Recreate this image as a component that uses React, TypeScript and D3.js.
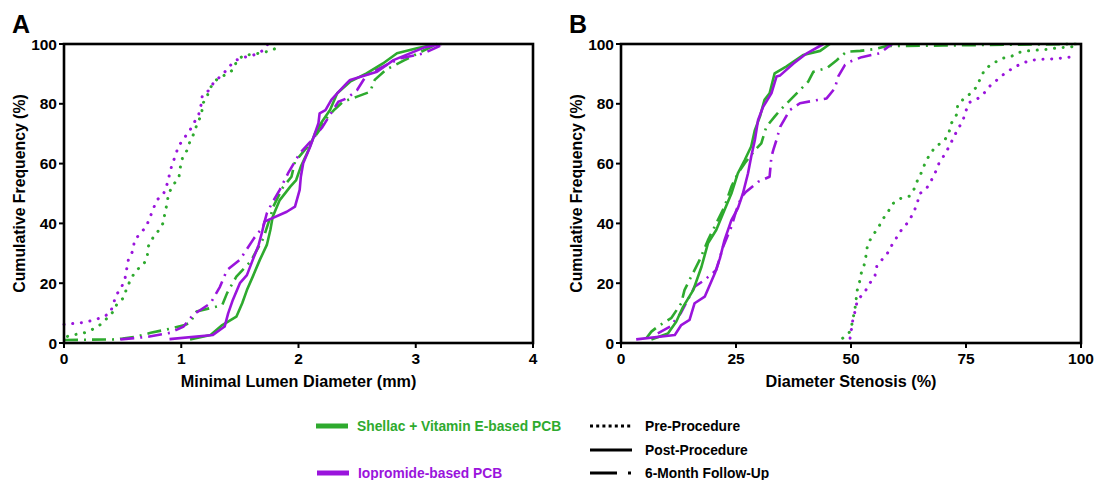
import React from "react";
import * as d3 from "d3";

// ---------- DATA ----------
type P = [number, number];
// Panel A: Minimal Lumen Diameter (mm) vs cumulative frequency (%)
const aPreGreen: P[] = [[0.03,2.2],[0.07,2.7],[0.16,3.2],[0.23,4.3],[0.3,5.8],[0.36,8],[0.42,10.5],[0.45,12.9],[0.51,15.2],[0.535,18.4],[0.57,21.3],[0.61,24.1],[0.68,26.3],[0.71,29.1],[0.72,32.4],[0.76,35.3],[0.81,37.8],[0.85,40.4],[0.86,43.5],[0.88,46.7],[0.89,49.8],[0.93,52.8],[0.98,55.3],[0.99,58.4],[1.01,61.8],[1.05,64.5],[1.075,67.5],[1.11,70.2],[1.135,73.3],[1.175,76.6],[1.18,79.8],[1.22,82.5],[1.25,85.5],[1.3,88],[1.37,89.6],[1.44,91.3],[1.47,94],[1.53,96.3],[1.61,96.5],[1.7,97.2],[1.78,97.9],[1.85,100]];
const aPrePurple: P[] = [[0,6.2],[0.15,6.8],[0.24,7.5],[0.32,8.5],[0.39,9.9],[0.42,12.7],[0.44,15.7],[0.49,18.6],[0.52,21.5],[0.535,24.8],[0.55,28.1],[0.59,31],[0.6,34.2],[0.65,36.7],[0.7,38.8],[0.73,41.7],[0.76,44.7],[0.79,47.7],[0.85,50],[0.88,53.2],[0.9,56.4],[0.92,59.5],[0.95,62.6],[0.975,65.7],[1.02,68.3],[1.07,70.9],[1.11,73.7],[1.15,76.6],[1.17,79.8],[1.18,82.9],[1.24,84.6],[1.28,87.4],[1.34,89.3],[1.4,91.9],[1.45,94.3],[1.52,95.4],[1.61,96.2],[1.69,97.7],[1.74,100]];
const aPostGreen: P[] = [[1.075,1.2],[1.25,2.7],[1.35,6],[1.47,8.8],[1.52,13.3],[1.56,17.7],[1.61,22.2],[1.67,27.8],[1.73,32.8],[1.76,37.8],[1.78,42.2],[1.84,47.8],[1.93,52.3],[1.98,54.5],[2.02,59],[2.08,64],[2.14,70],[2.2,74],[2.27,78],[2.33,83.5],[2.44,87.4],[2.58,90.2],[2.72,93.5],[2.84,96.9],[3.01,98.6],[3.18,100]];
const aPostPurple: P[] = [[0.9,1.3],[1.27,2.7],[1.37,5.5],[1.4,9.9],[1.44,14.4],[1.5,20],[1.56,22.7],[1.61,27.8],[1.66,32.8],[1.69,37.2],[1.71,40.6],[1.9,43.9],[1.97,45.6],[2.01,51.2],[2.02,55.6],[2.04,60.1],[2.1,65.7],[2.13,69],[2.17,73.5],[2.18,76.8],[2.23,77.9],[2.28,81.3],[2.33,83.5],[2.41,86.8],[2.44,88],[2.67,90.7],[2.81,94.6],[3.07,98.8],[3.22,100]];
const aFollowGreen: P[] = [[0,1],[0.42,1.2],[0.5,1.5],[0.6,2],[0.74,3.4],[0.92,4.9],[1.03,6],[1.075,6.8],[1.13,10.5],[1.35,12.7],[1.39,16.6],[1.47,22.2],[1.59,27.2],[1.7,35],[1.76,42.2],[1.785,45.6],[1.84,50],[1.86,51.7],[1.94,55.6],[1.97,60.6],[2.1,66.8],[2.18,71.2],[2.24,75.2],[2.31,78.2],[2.38,80.7],[2.5,82.4],[2.61,84],[2.65,88],[2.75,91.5],[2.9,94.5],[3.05,97.5],[3.18,100]];
const aFollowPurple: P[] = [[0.48,1.2],[0.7,2],[0.905,3.4],[1.02,5.5],[1.1,9.4],[1.25,13.3],[1.33,18.8],[1.39,24.4],[1.5,27.8],[1.62,35],[1.7,39],[1.73,43.4],[1.77,46.5],[1.84,51.2],[1.91,56.7],[2.01,63.4],[2.1,67.3],[2.2,72],[2.28,77],[2.34,80.7],[2.41,81.8],[2.5,84.6],[2.58,89.6],[2.75,93],[2.87,95.2],[3.07,96.9],[3.24,100]];

// Panel B: Diameter Stenosis (%) vs cumulative frequency (%)
const bPreGreen: P[] = [[48.2,1.6],[49.8,3.8],[50.3,6.9],[50.7,10.3],[51.1,13.5],[51.2,16.8],[51.8,20],[52.2,23.2],[52.9,26.3],[53.3,29.5],[53.6,32.9],[54.6,35.7],[55.9,38.5],[56.9,41.4],[58,43.7],[59,46.5],[60.7,48.3],[62.7,49.1],[63.8,51.7],[64.5,54.6],[65.5,57.6],[66.2,60.6],[67.4,63.7],[68.5,65.8],[70.3,67.6],[71.3,70.5],[71.9,73.7],[73,76.5],[73.2,79.7],[74.6,81.8],[76.2,83.7],[77.2,85.5],[78.2,88.7],[79.1,91.6],[80.9,93.5],[82.8,95.2],[84.8,95.8],[86.5,97.2],[88.5,97.7],[90.7,98],[92.9,98.2],[95.1,98.8],[97.2,98.9],[99.2,99.4]];
const bPrePurple: P[] = [[49.8,1.6],[49.9,3.5],[50.2,5.1],[50.3,6.8],[50.5,8.5],[50.8,10.1],[51,11.6],[51.2,13],[51.6,14.7],[52.9,16.8],[54,19.8],[55.2,22.4],[55.6,25.6],[56.7,27.8],[58,30.2],[58.9,32.8],[60.1,35.7],[61.2,38.4],[62.5,40.5],[63.5,43.4],[64.4,46.5],[64.8,49.7],[66.5,51.9],[67.5,54.5],[68.4,57.3],[69.2,60.4],[70.4,63.1],[71.4,65.9],[72.3,68.7],[73.2,71.5],[74.3,74.2],[74.9,77.4],[75.8,80.5],[77.6,81.8],[79,83.7],[80.4,86.3],[82,88.3],[83.6,90.4],[85.4,92.1],[87.2,93.6],[89.3,94.6],[91.5,94.9],[93.6,95],[95.8,95.3],[98,95.7]];
const bPostGreen: P[] = [[6.6,1.2],[10.2,3.2],[12,7.1],[13.5,12.1],[15.7,17.7],[17.5,25.5],[18.9,33.3],[20.7,37.8],[22.5,44.5],[24,50],[25.4,56.7],[26.9,61.2],[28.3,65.7],[29.1,71.2],[30.2,75.7],[31.2,81.3],[32.3,83.5],[33.4,90.2],[36,92.5],[39.6,96.3],[43.3,97.7],[45.4,100]];
const bPostPurple: P[] = [[3.3,1.2],[11.7,2.7],[13.1,6],[14.9,7.7],[16,13.3],[18.2,15.5],[20.4,23.3],[21.5,28.3],[22.5,34.4],[24,41.1],[25.4,45],[26.5,50],[27.6,56.7],[28.3,62.3],[29.1,67.9],[29.8,74.6],[30.9,79],[32.7,83.5],[33.8,89.1],[34.6,89.5],[37.5,93.5],[40.4,96.9],[44,100]];
const bFollowGreen: P[] = [[5.5,1.6],[6.6,3.8],[8,5.5],[10.9,8.3],[13.1,13.3],[13.8,17.7],[14.9,21.1],[17.1,27.8],[18.9,34.4],[20.7,40],[22.5,45.6],[24,52.3],[25.4,56.7],[26.9,60.1],[29.1,64.5],[30.5,66.8],[31.6,72.3],[33.4,75.7],[34.6,77.9],[37.5,82.4],[40.7,87.4],[41.8,90.7],[44.7,91.9],[46.9,94.6],[49,97.4],[52,97.7],[55.2,98.3],[57.8,99.3],[70,99.5],[99,100]];
const bFollowPurple: P[] = [[8,3.2],[10.7,5.5],[13,10],[16,18.8],[18.2,21.1],[20.7,24.4],[22.2,32.2],[24,38.9],[25.1,44.5],[26.2,48.9],[27.2,50.6],[29.8,53.9],[32.3,55.6],[32.7,62.3],[33.1,64.5],[33.8,67.9],[34.6,72.3],[36.7,77.9],[38.9,80.2],[44.7,81.8],[46.5,85.2],[47.2,89.1],[48.7,93],[49.8,94.1],[52.3,95.6],[56.3,96.9],[58.1,99.1],[59,100]];

const aXTicks = [0, 1, 2, 3, 4];
const bXTicks = [0, 25, 50, 75, 100];
const yTicks = [0, 20, 40, 60, 80, 100];
const groupLabels = ["Shellac + Vitamin E-based PCB", "Iopromide-based PCB"];
const timeLabels = ["Pre-Procedure", "Post-Procedure", "6-Month Follow-Up"];

// ---------- STYLE ----------
const GREEN = "#2EAA2E";
const PURPLE = "#9A14DC";
const FONT = "'Liberation Sans', Arial, Helvetica, sans-serif";
const DOT = "0.1 8.6";
const DASH = "14 6 2 6";

type Panel = {
  letter: string;
  left: number;
  right: number;
  xMax: number;
  xTicks: number[];
  xTitle: string;
  series: { data: P[]; color: string; style: "dot" | "solid" | "dash" }[];
};

const TOP = 44;
const BOTTOM = 343;

const panels: Panel[] = [
  {
    letter: "A",
    left: 64,
    right: 533,
    xMax: 4,
    xTicks: aXTicks,
    xTitle: "Minimal Lumen Diameter (mm)",
    series: [
      { data: aPreGreen, color: GREEN, style: "dot" },
      { data: aPrePurple, color: PURPLE, style: "dot" },
      { data: aFollowGreen, color: GREEN, style: "dash" },
      { data: aFollowPurple, color: PURPLE, style: "dash" },
      { data: aPostGreen, color: GREEN, style: "solid" },
      { data: aPostPurple, color: PURPLE, style: "solid" },
    ],
  },
  {
    letter: "B",
    left: 621,
    right: 1081,
    xMax: 100,
    xTicks: bXTicks,
    xTitle: "Diameter Stenosis (%)",
    series: [
      { data: bPreGreen, color: GREEN, style: "dot" },
      { data: bPrePurple, color: PURPLE, style: "dot" },
      { data: bFollowGreen, color: GREEN, style: "dash" },
      { data: bFollowPurple, color: PURPLE, style: "dash" },
      { data: bPostGreen, color: GREEN, style: "solid" },
      { data: bPostPurple, color: PURPLE, style: "solid" },
    ],
  },
];

function PanelView({ p }: { p: Panel }) {
  const x = d3.scaleLinear().domain([0, p.xMax]).range([p.left, p.right]);
  const y = d3.scaleLinear().domain([0, 100]).range([BOTTOM, TOP]);
  const line = d3
    .line<P>()
    .x((d) => x(d[0]))
    .y((d) => y(d[1]));
  const midX = (p.left + p.right) / 2;
  const midY = (TOP + BOTTOM) / 2;
  return (
    <g>
      <text x={p.left - 52} y={33} fontFamily={FONT} fontWeight="bold" fontSize={25} fill="#000">
        {p.letter}
      </text>
      {p.series.map((s, i) => (
        <path
          key={i}
          d={line(s.data) || ""}
          fill="none"
          stroke={s.color}
          strokeWidth={s.style === "dot" ? 3 : 2.6}
          strokeLinecap={s.style === "dot" ? "round" : "butt"}
          strokeLinejoin="round"
          strokeDasharray={s.style === "dot" ? DOT : s.style === "dash" ? DASH : undefined}
        />
      ))}
      {/* frame */}
      <rect
        x={p.left}
        y={TOP}
        width={p.right - p.left}
        height={BOTTOM - TOP}
        fill="none"
        stroke="#000"
        strokeWidth={2.6}
      />
      {/* x ticks */}
      {p.xTicks.map((t) => (
        <g key={t}>
          <line x1={x(t)} x2={x(t)} y1={BOTTOM} y2={BOTTOM + 5} stroke="#000" strokeWidth={2} />
          <text
            x={x(t)}
            y={364}
            textAnchor="middle"
            fontFamily={FONT}
            fontWeight="bold"
            fontSize={15.5}
            fill="#000"
          >
            {t}
          </text>
        </g>
      ))}
      {/* y ticks */}
      {yTicks.map((t) => (
        <g key={t}>
          <line x1={p.left - 5} x2={p.left} y1={y(t)} y2={y(t)} stroke="#000" strokeWidth={2} />
          <text
            x={p.left - 7}
            y={y(t) + 5.5}
            textAnchor="end"
            fontFamily={FONT}
            fontWeight="bold"
            fontSize={15.5}
            fill="#000"
          >
            {t}
          </text>
        </g>
      ))}
      <text
        x={midX}
        y={387}
        textAnchor="middle"
        fontFamily={FONT}
        fontWeight="bold"
        fontSize={16.2}
        fill="#000"
      >
        {p.xTitle}
      </text>
      <text
        transform={`translate(${p.left - 39},${midY}) rotate(-90)`}
        textAnchor="middle"
        fontFamily={FONT}
        fontWeight="bold"
        fontSize={15.8}
        fill="#000"
      >
        Cumulative Frequency (%)
      </text>
    </g>
  );
}

function Legend() {
  const rows = [426, 450, 473];
  return (
    <g fontFamily={FONT} fontWeight="bold" fontSize={13.8}>
      <line x1={316} x2={348} y1={rows[0]} y2={rows[0]} stroke={GREEN} strokeWidth={5} />
      <text x={357} y={rows[0] + 5} fill={GREEN}>
        {groupLabels[0]}
      </text>
      <line x1={317} x2={349} y1={rows[2]} y2={rows[2]} stroke={PURPLE} strokeWidth={5} />
      <text x={358} y={rows[2] + 5} fill={PURPLE}>
        {groupLabels[1]}
      </text>

      <line
        x1={590}
        x2={633}
        y1={rows[0]}
        y2={rows[0]}
        stroke="#000"
        strokeWidth={3}
        strokeDasharray="3 3.2"
      />
      <text x={645} y={rows[0] + 5} fill="#000">
        {timeLabels[0]}
      </text>
      <line x1={590} x2={632} y1={rows[1]} y2={rows[1]} stroke="#000" strokeWidth={3} />
      <text x={645} y={rows[1] + 5} fill="#000">
        {timeLabels[1]}
      </text>
      <line
        x1={590}
        x2={633}
        y1={rows[2]}
        y2={rows[2]}
        stroke="#000"
        strokeWidth={3}
        strokeDasharray="27 11 3 50"
      />
      <text x={645} y={rows[2] + 5} fill="#000">
        {timeLabels[2]}
      </text>
    </g>
  );
}

export default function App() {
  return (
    <svg
      width={1105}
      height={480}
      viewBox="0 0 1105 480"
      style={{ position: "absolute", left: 0, top: 0, display: "block", background: "#fff" }}
    >
      <rect x={0} y={0} width={1105} height={480} fill="#fff" />
      {panels.map((p) => (
        <PanelView key={p.letter} p={p} />
      ))}
      <Legend />
    </svg>
  );
}
